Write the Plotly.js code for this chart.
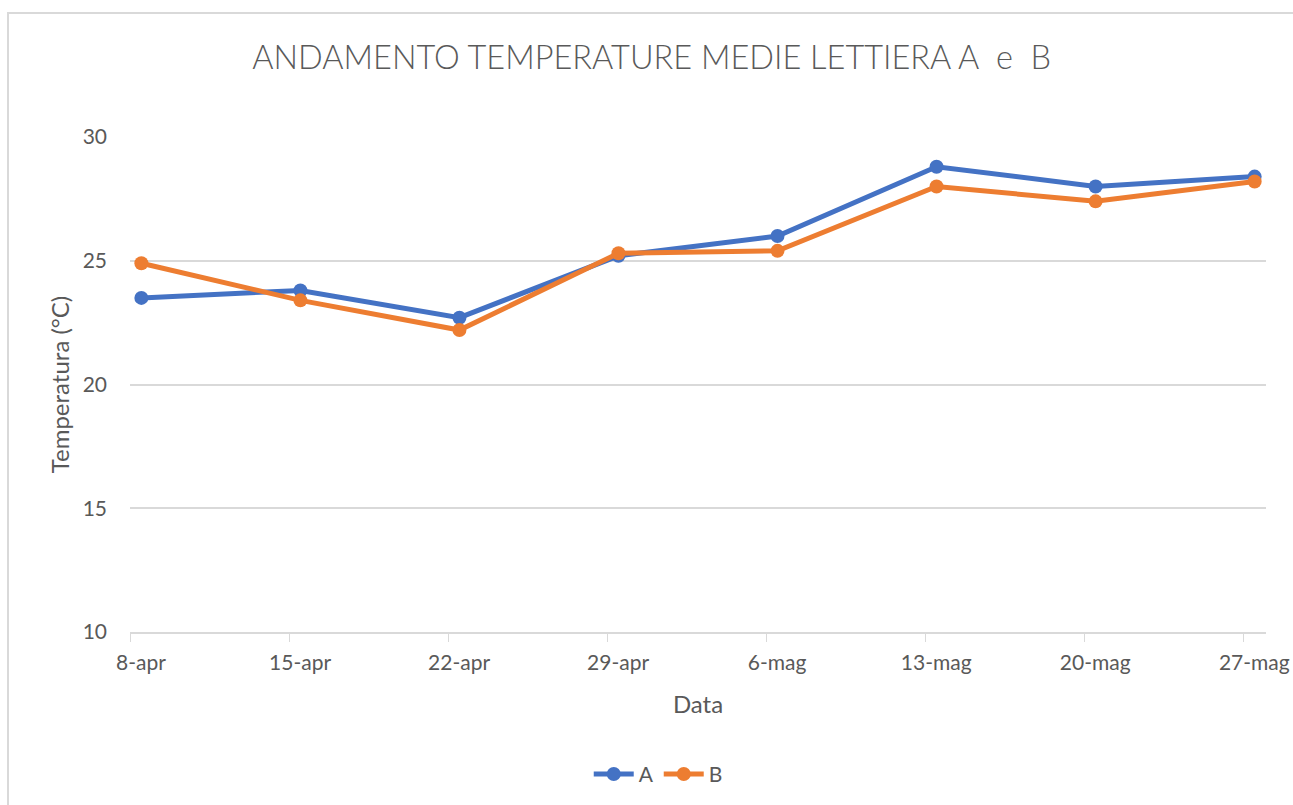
<!DOCTYPE html>
<html>
<head>
<meta charset="utf-8">
<script src="https://cdn.plot.ly/plotly-3.0.1.min.js"></script>
<style>
  html, body { margin:0; padding:0; background:#fff; width:1293px; height:805px; overflow:hidden; }
  #frame { position:absolute; left:7px; top:12px; width:1400px; height:900px; border-left:2px solid #d9d9d9; border-top:2px solid #d9d9d9; }
  #chart { position:absolute; left:0; top:0; width:1293px; height:805px; }
</style>
</head>
<body>
<div id="frame"></div>
<div id="chart"></div>
<script>
// Dates of measurement (points sit in the middle of each day, as on an Excel date axis)
const dates = ["2021-04-08 12:00","2021-04-15 12:00","2021-04-22 12:00","2021-04-29 12:00","2021-05-06 12:00","2021-05-13 12:00","2021-05-20 12:00","2021-05-27 12:00"];
const tempA = [23.5, 23.8, 22.7, 25.2, 26.0, 28.8, 28.0, 28.4];
const tempB = [24.9, 23.4, 22.2, 25.3, 25.4, 28.0, 27.4, 28.2];
const tickDates = ["2021-04-08","2021-04-15","2021-04-22","2021-04-29","2021-05-06","2021-05-13","2021-05-20","2021-05-27"];
const tickLabels = ["8-apr","15-apr","22-apr","29-apr","6-mag","13-mag","20-mag","27-mag"];
const yTicks = [10, 15, 20, 25, 30];

const textColor = "#595959";
const fontFam = "Lato, 'Open Sans', sans-serif";

const traces = [
  { x: dates, y: tempA, name: "A", type: "scatter", mode: "lines+markers",
    line: { color: "#4472C4", width: 5 }, marker: { color: "#4472C4", size: 14 } },
  { x: dates, y: tempB, name: "B", type: "scatter", mode: "lines+markers",
    line: { color: "#ED7D31", width: 5 }, marker: { color: "#ED7D31", size: 14 } }
];

const layout = {
  width: 1293, height: 805,
  paper_bgcolor: "rgba(0,0,0,0)", plot_bgcolor: "rgba(0,0,0,0)",
  margin: { l: 130, r: 27, t: 137, b: 172 },
  font: { family: fontFam, color: textColor, size: 21 },
  title: { text: "ANDAMENTO TEMPERATURE MEDIE LETTIERA A  e  B", x: 0.504, xanchor: "center", y: 0.928, yanchor: "middle",
           font: { family: fontFam, size: 32.5, color: textColor, weight: 300 } },
  xaxis: {
    type: "date", range: ["2021-04-08", "2021-05-28"],
    tickmode: "array", tickvals: tickDates, ticktext: tickLabels,
    ticks: "outside", ticklen: 8, tickcolor: "#d9d9d9", tickwidth: 1,
    ticklabelshift: 11, ticklabelstandoff: 3,
    showgrid: false, showline: true, linecolor: "#d9d9d9", linewidth: 2,
    zeroline: false, tickfont: { size: 21, color: textColor },
    title: { text: "Data", font: { size: 24, color: textColor }, standoff: 23 }
  },
  yaxis: {
    range: [10, 30], tickmode: "array", tickvals: yTicks,
    showgrid: true, gridcolor: "#d9d9d9", gridwidth: 2,
    showline: false, zeroline: false, ticks: "", ticklabelstandoff: 22,
    tickfont: { size: 21, color: textColor },
    title: { text: "Temperatura (°C)", font: { size: 24, color: textColor }, standoff: 6 }
  },
  showlegend: true,
  legend: { orientation: "h", x: 0.465, xanchor: "center", y: -0.285, yanchor: "middle",
            font: { size: 21, color: textColor }, itemwidth: 40, tracegroupgap: 0 }
};

Plotly.newPlot("chart", traces, layout, { displayModeBar: false, staticPlot: true });
</script>
</body>
</html>
